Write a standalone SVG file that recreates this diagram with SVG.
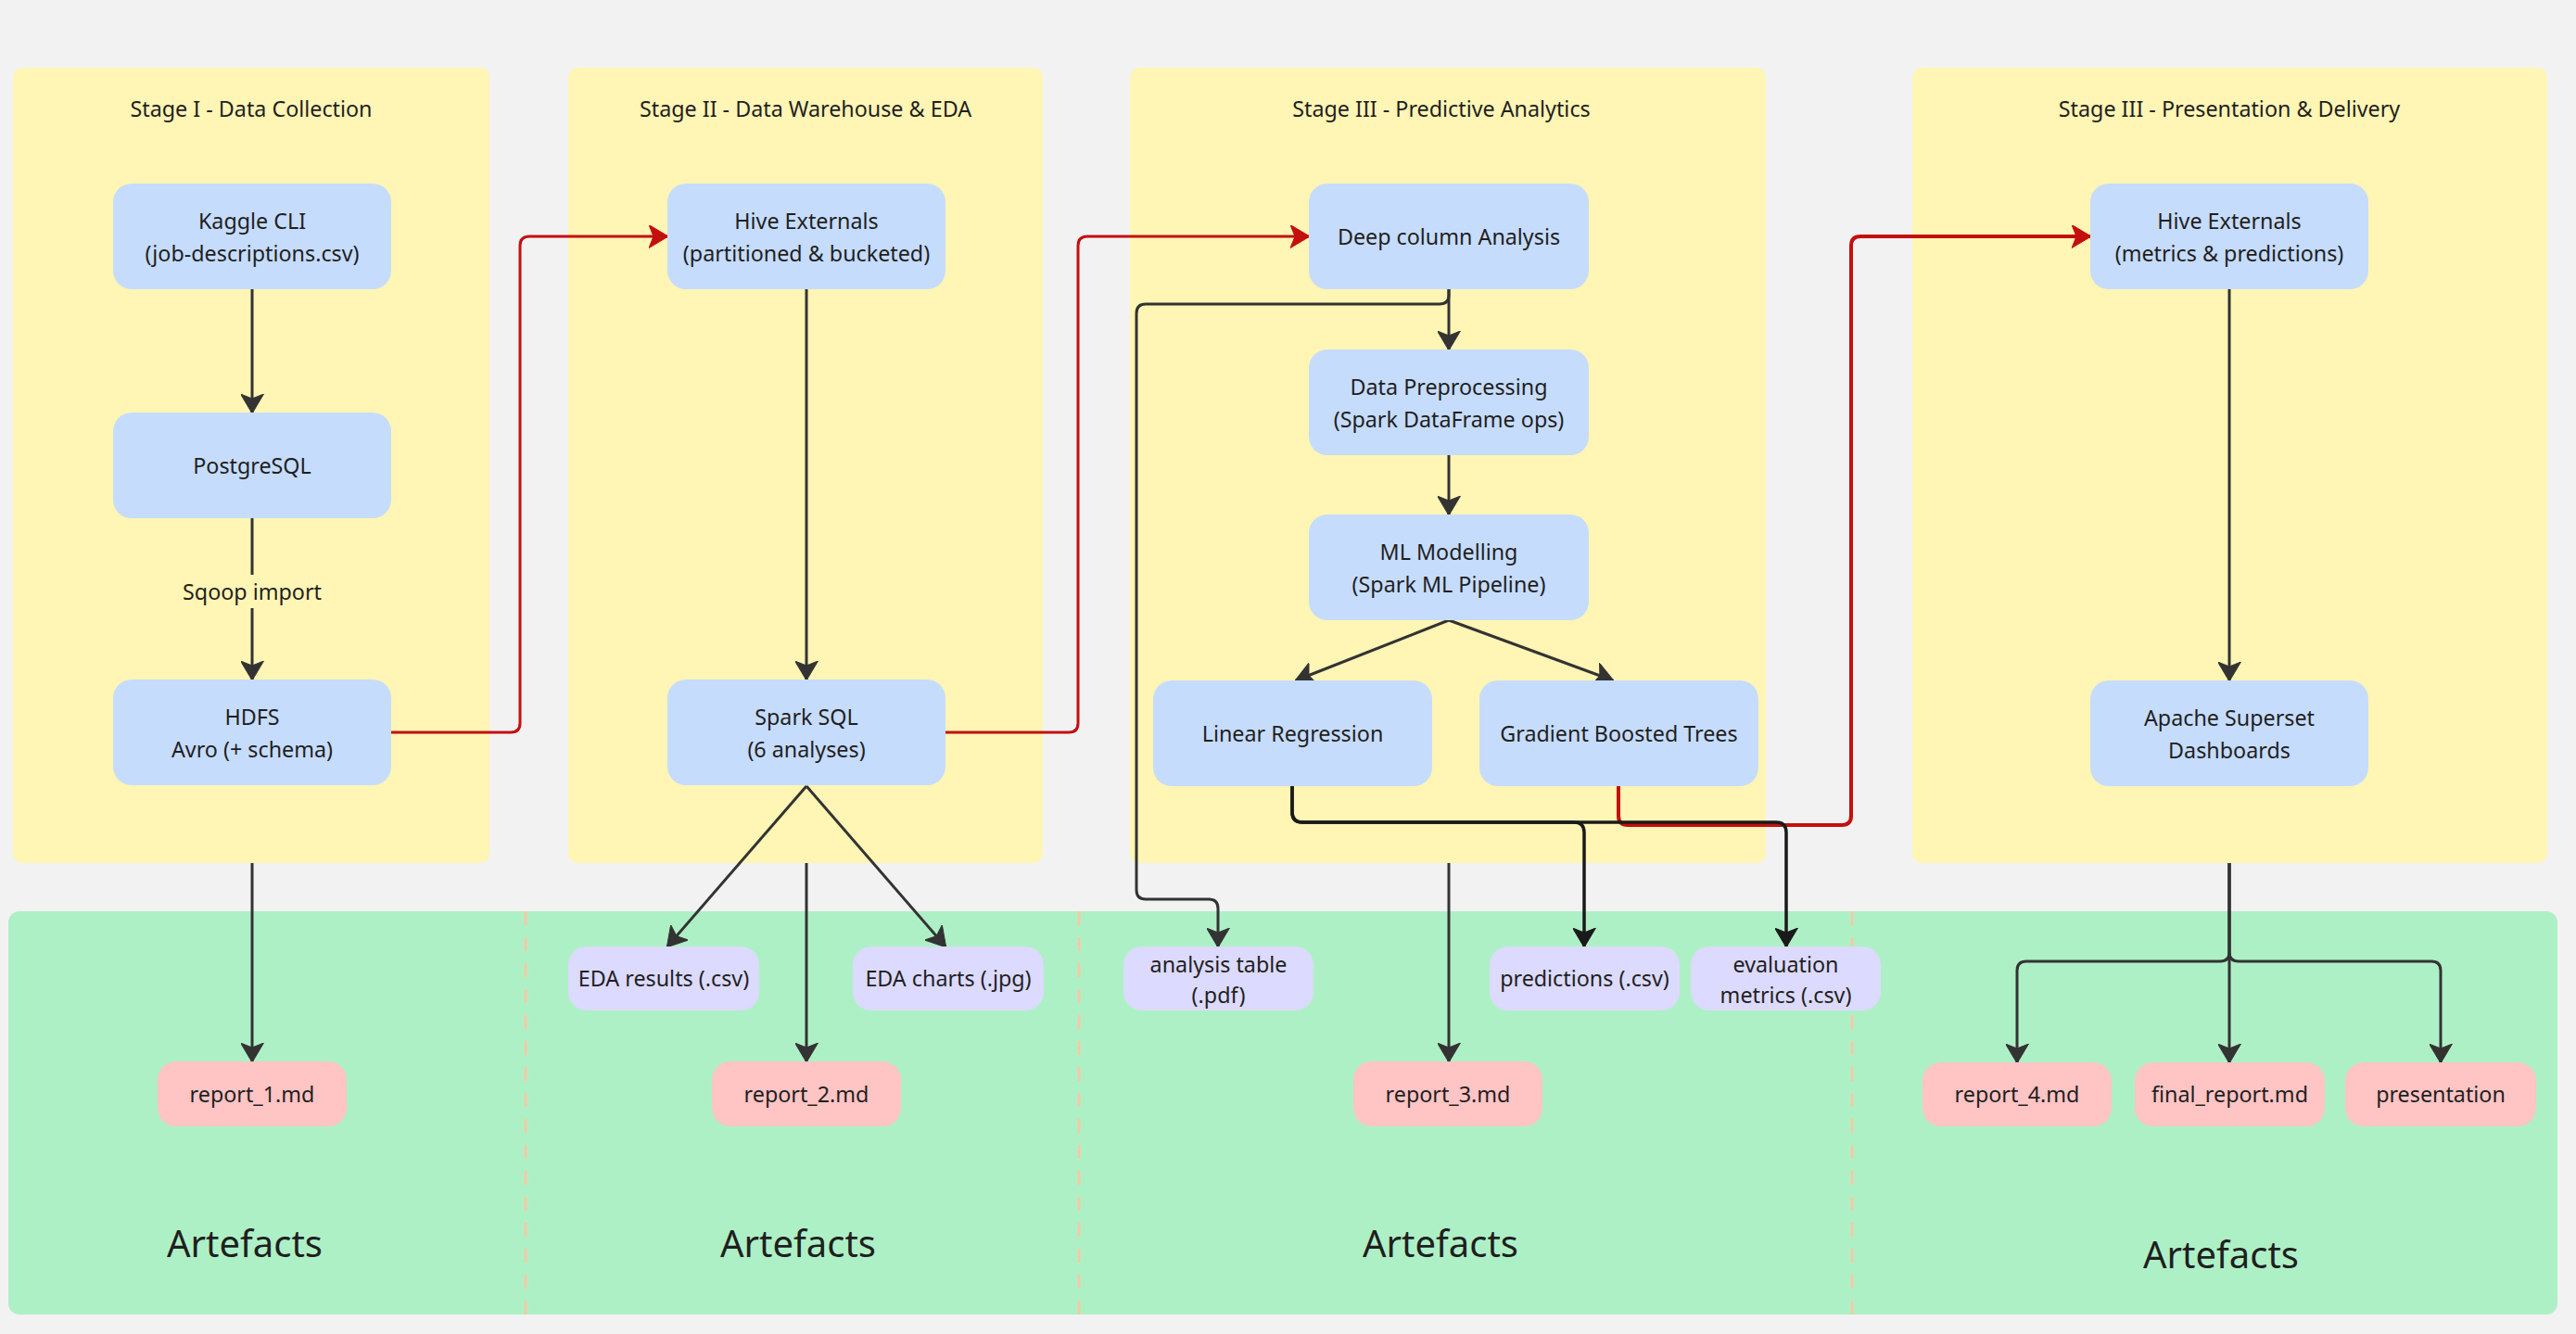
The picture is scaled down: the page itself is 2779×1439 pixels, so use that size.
<svg xmlns="http://www.w3.org/2000/svg" width="2779" height="1439" viewBox="0 0 2779 1439">
<defs>
<style>
.bg{fill:#f2f2f2}
.stage{fill:#fff5b4}
.art{fill:#aef0c6}
.sep{stroke:#f3caa6;stroke-width:3;stroke-dasharray:15 13;fill:none}
.n{fill:#c6dcfd}
.p{fill:#dcdafe}
.r{fill:#ffc4c4}
text{font-family:"Noto Sans","Open Sans","DejaVu Sans",sans-serif;font-size:23.3px;fill:#1f1f1f;text-anchor:middle;dominant-baseline:central}
.big{font-size:40px}
.e{fill:none;stroke:#333;stroke-width:3}
.ek{fill:none;stroke:#1a1a1a;stroke-width:3.5}
.er{fill:none;stroke:#c40f0f;stroke-width:3}
.er2{fill:none;stroke:#c40f0f;stroke-width:4}
</style>
<marker id="a" viewBox="0 0 21 25" markerWidth="21" markerHeight="25" refX="20" refY="12.5" orient="auto" markerUnits="userSpaceOnUse"><path d="M0,0 L21,12.5 L0,25 L5,12.5 z" fill="#333" stroke="#333" stroke-width="1" stroke-linejoin="round"/></marker>
<marker id="ak" viewBox="0 0 21 25" markerWidth="21" markerHeight="25" refX="20" refY="12.5" orient="auto" markerUnits="userSpaceOnUse"><path d="M0,0 L21,12.5 L0,25 L5,12.5 z" fill="#1a1a1a" stroke="#1a1a1a" stroke-width="1" stroke-linejoin="round"/></marker>
<marker id="ar" viewBox="0 0 21 25" markerWidth="21" markerHeight="25" refX="20" refY="12.5" orient="auto" markerUnits="userSpaceOnUse"><path d="M0,0 L21,12.5 L0,25 L5,12.5 z" fill="#c40f0f" stroke="#c40f0f" stroke-width="1" stroke-linejoin="round"/></marker>
</defs>
<rect class="bg" x="0" y="0" width="2779" height="1439"/>

<g id="artefacts-panel">
<rect class="art" x="9" y="983" width="2750" height="435" rx="12"/>
<line class="sep" x1="567" y1="983" x2="567" y2="1418"/>
<line class="sep" x1="1164" y1="983" x2="1164" y2="1418"/>
<line class="sep" x1="1998" y1="983" x2="1998" y2="1418"/>
<text class="big" x="264" y="1340">Artefacts</text>
<text class="big" x="861" y="1340">Artefacts</text>
<text class="big" x="1554" y="1340">Artefacts</text>
<text class="big" x="2396" y="1352">Artefacts</text>
</g>

<g id="stage1"><rect class="stage" x="14" y="73" width="514" height="858" rx="10"/><text x="271" y="117">Stage I - Data Collection</text></g>
<g id="stage2"><rect class="stage" x="613" y="73" width="512" height="858" rx="10"/><text x="869" y="117">Stage II - Data Warehouse &amp; EDA</text></g>
<g id="stage3"><rect class="stage" x="1219" y="73" width="686" height="858" rx="10"/><text x="1555" y="117">Stage III - Predictive Analytics</text></g>
<g id="stage4"><rect class="stage" x="2063" y="73" width="685" height="858" rx="10"/><text x="2405" y="117">Stage III - Presentation &amp; Delivery</text></g>

<g id="connectors">
<path class="e" d="M272,312 V445" marker-end="url(#a)"/>
<path class="e" d="M272,559 V733" marker-end="url(#a)"/>
<rect x="192" y="620" width="160" height="36" fill="#fff5b4"/>
<text x="272" y="638">Sqoop import</text>
<path class="er" d="M422,790 H551 Q561,790 561,780 V265 Q561,255 571,255 H720" marker-end="url(#ar)"/>
<path class="e" d="M870,312 V733" marker-end="url(#a)"/>
<path class="er" d="M1020,790 H1153 Q1163,790 1163,780 V265 Q1163,255 1173,255 H1412" marker-end="url(#ar)"/>
<path class="e" d="M870,848 L720,1021" marker-end="url(#a)"/>
<path class="e" d="M870,848 L1020,1021" marker-end="url(#a)"/>
<path class="e" d="M870,931 V1145" marker-end="url(#a)"/>
<path class="e" d="M272,931 V1145" marker-end="url(#a)"/>
<path class="e" d="M1563,312 V377" marker-end="url(#a)"/>
<path class="e" d="M1563,312 V318 Q1563,328 1553,328 H1236 Q1226,328 1226,338 V960 Q1226,970 1236,970 H1304 Q1314,970 1314,980 V1021" marker-end="url(#a)"/>
<path class="e" d="M1563,491 V555" marker-end="url(#a)"/>
<path class="e" d="M1563,669 L1398,734" marker-end="url(#a)"/>
<path class="e" d="M1563,669 L1740,734" marker-end="url(#a)"/>
<path class="e" d="M1563,931 V1145" marker-end="url(#a)"/>
<path class="er2" d="M1746,848 V880 Q1746,890 1756,890 H1987 Q1997,890 1997,880 V265 Q1997,255 2007,255 H2255" marker-end="url(#ar)"/>
<path class="ek" d="M1394,848 V876 Q1394,887 1405,887 H1698 Q1709,887 1709,898 V1021" marker-end="url(#ak)"/>
<path class="ek" d="M1394,848 V876 Q1394,887 1405,887 H1916 Q1927,887 1927,898 V1021" marker-end="url(#ak)"/>
<path class="e" d="M2405,312 V734" marker-end="url(#a)"/>
<path class="e" d="M2405,931 V1027 Q2405,1037 2395,1037 H2186 Q2176,1037 2176,1047 V1146" marker-end="url(#a)"/>
<path class="e" d="M2405,931 V1146" marker-end="url(#a)"/>
<path class="e" d="M2405,931 V1027 Q2405,1037 2415,1037 H2623 Q2633,1037 2633,1047 V1146" marker-end="url(#a)"/>
</g>

<g id="kaggle"><rect class="n" x="122" y="198" width="300" height="114" rx="20"/><text x="272" y="238">Kaggle CLI</text><text x="272" y="273">(job-descriptions.csv)</text></g>
<g id="postgres"><rect class="n" x="122" y="445" width="300" height="114" rx="20"/><text x="272" y="502">PostgreSQL</text></g>
<g id="hdfs"><rect class="n" x="122" y="733" width="300" height="114" rx="20"/><text x="272" y="773">HDFS</text><text x="272" y="808">Avro (+ schema)</text></g>
<g id="hive1"><rect class="n" x="720" y="198" width="300" height="114" rx="20"/><text x="870" y="238">Hive Externals</text><text x="870" y="273">(partitioned &amp; bucketed)</text></g>
<g id="sparksql"><rect class="n" x="720" y="733" width="300" height="114" rx="20"/><text x="870" y="773">Spark SQL</text><text x="870" y="808">(6 analyses)</text></g>
<g id="deep"><rect class="n" x="1412" y="198" width="302" height="114" rx="20"/><text x="1563" y="255">Deep column Analysis</text></g>
<g id="prep"><rect class="n" x="1412" y="377" width="302" height="114" rx="20"/><text x="1563" y="417">Data Preprocessing</text><text x="1563" y="452">(Spark DataFrame ops)</text></g>
<g id="ml"><rect class="n" x="1412" y="555" width="302" height="114" rx="20"/><text x="1563" y="595">ML Modelling</text><text x="1563" y="630">(Spark ML Pipeline)</text></g>
<g id="lr"><rect class="n" x="1244" y="734" width="301" height="114" rx="20"/><text x="1394.5" y="791">Linear Regression</text></g>
<g id="gbt"><rect class="n" x="1596" y="734" width="301" height="114" rx="20"/><text x="1746.5" y="791">Gradient Boosted Trees</text></g>
<g id="hive2"><rect class="n" x="2255" y="198" width="300" height="114" rx="20"/><text x="2405" y="238">Hive Externals</text><text x="2405" y="273">(metrics &amp; predictions)</text></g>
<g id="superset"><rect class="n" x="2255" y="734" width="300" height="114" rx="20"/><text x="2405" y="774">Apache Superset</text><text x="2405" y="809">Dashboards</text></g>

<g id="report1"><rect class="r" x="170" y="1145" width="204" height="70" rx="20"/><text x="272" y="1180">report_1.md</text></g>
<g id="edares"><rect class="p" x="613" y="1021" width="206" height="69" rx="20"/><text x="716" y="1055">EDA results (.csv)</text></g>
<g id="edacharts"><rect class="p" x="920" y="1021" width="206" height="69" rx="20"/><text x="1023" y="1055">EDA charts (.jpg)</text></g>
<g id="report2"><rect class="r" x="768" y="1145" width="204" height="70" rx="20"/><text x="870" y="1180">report_2.md</text></g>
<g id="analysis"><rect class="p" x="1212" y="1021" width="205" height="69" rx="20"/><text x="1314.5" y="1040">analysis table</text><text x="1314.5" y="1073">(.pdf)</text></g>
<g id="predictions"><rect class="p" x="1607" y="1021" width="205" height="69" rx="20"/><text x="1709.5" y="1055">predictions (.csv)</text></g>
<g id="evaluation"><rect class="p" x="1824" y="1021" width="205" height="69" rx="20"/><text x="1926.5" y="1040">evaluation</text><text x="1926.5" y="1073">metrics (.csv)</text></g>
<g id="report3"><rect class="r" x="1460" y="1145" width="204" height="70" rx="20"/><text x="1562" y="1180">report_3.md</text></g>
<g id="report4"><rect class="r" x="2074" y="1146" width="204" height="69" rx="20"/><text x="2176" y="1180">report_4.md</text></g>
<g id="finalreport"><rect class="r" x="2303" y="1146" width="205" height="69" rx="20"/><text x="2405.5" y="1180">final_report.md</text></g>
<g id="presentation"><rect class="r" x="2530" y="1146" width="206" height="69" rx="20"/><text x="2633" y="1180">presentation</text></g>
</svg>
